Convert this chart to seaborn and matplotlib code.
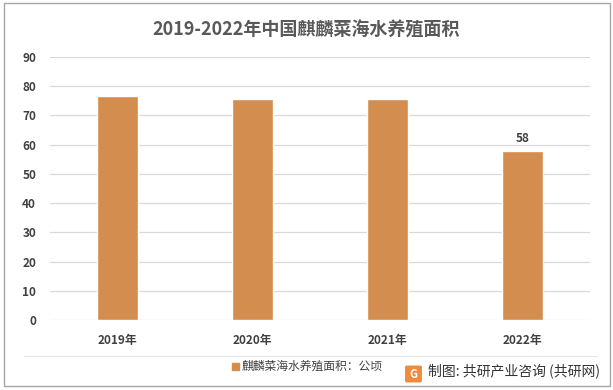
import matplotlib
matplotlib.use('Agg')
import matplotlib.pyplot as plt
import seaborn as sns
import pandas as pd
from matplotlib.patches import Rectangle, FancyBboxPatch

years = ['2019年', '2020年', '2021年', '2022年']
area = [76.7, 75.7, 75.7, 58]
series_name = '麒麟菜海水养殖面积：公顷'

df = pd.DataFrame({'年份': years, '面积': area})

sns.set_theme(style='white')
plt.rcParams['font.family'] = ['Noto Sans CJK SC', 'DejaVu Sans']

fig = plt.figure(figsize=(6.13, 3.90), dpi=100)
ax = fig.add_axes([50/613, 1-320/390, 540/613, 263/390])

bar_color = '#D38D4E'
sns.barplot(x='年份', y='面积', data=df, color=bar_color, width=0.31, ax=ax, saturation=1)

ax.set_ylim(0, 90)
ax.set_yticks(range(0, 91, 10))
ax.yaxis.grid(True, color='#D9D9D9', linewidth=0.9)
ax.set_axisbelow(True)
for s in ax.spines.values():
    s.set_visible(False)
ax.set_xlabel('')
ax.set_ylabel('')
ax.tick_params(axis='both', length=0, labelsize=8.5, colors='#404040')
ax.tick_params(axis='x', pad=10)
ax.tick_params(axis='y', pad=10)
for lab in ax.get_xticklabels() + ax.get_yticklabels():
    lab.set_fontweight('bold')

# only the last bar carries its value label
ax.text(3, area[3] + 2, '58', ha='center', va='bottom', fontsize=8.5,
        fontweight='bold', color='#404040')

fig.text(0.5, 1-30/390, '2019-2022年中国麒麟菜海水养殖面积', ha='center', va='center',
         fontsize=13, fontweight='bold', color='#595959')

# legend
fig.patches.append(Rectangle((232/613, 1-370/390), 7/613, 7/390, transform=fig.transFigure,
                             color=bar_color))
fig.text(242/613, 1-366/390, series_name, ha='left', va='center', fontsize=8.5,
         color='#404040')

# faint separator line above legend row
fig.add_artist(plt.Line2D([24/613, 597/613], [1-356/390, 1-356/390],
                          transform=fig.transFigure, color='#E6E6E6', linewidth=0.8))

# watermark with logo
fig.patches.append(FancyBboxPatch((407/613, 1-381/390), 13/613, 14/390,
                                  boxstyle='round,pad=0.002', transform=fig.transFigure,
                                  color='#F08A3C'))
fig.text(413.5/613, 1-374/390, 'G', ha='center', va='center', fontsize=8,
         fontweight='bold', color='white')
fig.text(428/613, 1-371/390, '制图: 共研产业咨询 (共研网)', ha='left', va='center',
         fontsize=10, color='#333333')

# outer border
fig.patches.append(Rectangle((4/613, 4/390), 606/613, 383/390, transform=fig.transFigure,
                             fill=False, edgecolor='#A6A6A6', linewidth=1))

fig.savefig('out.png', dpi=100)
